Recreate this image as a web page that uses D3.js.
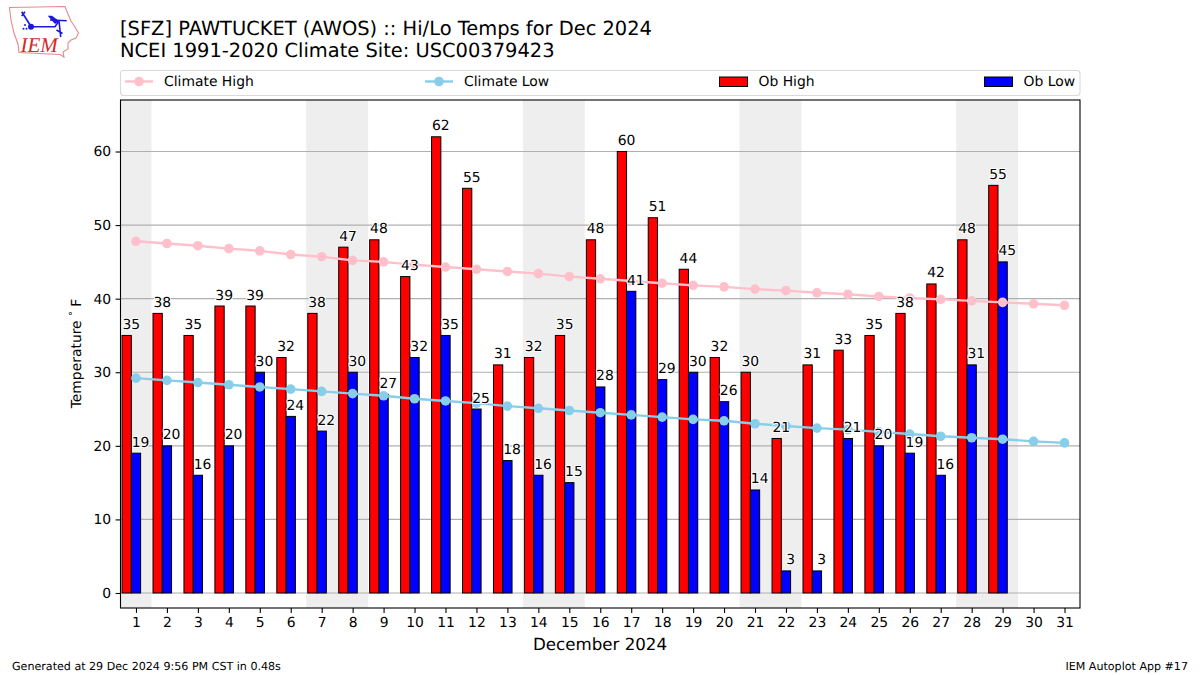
<!DOCTYPE html>
<html>
<head>
<meta charset="utf-8">
<script src="https://d3js.org/d3.v7.min.js"></script>
<style>
  html, body { margin: 0; padding: 0; background: #fff; }
  svg { display: block; text-rendering: geometricPrecision; }
  text { font-family: "DejaVu Sans", sans-serif; fill: #000; }
</style>
</head>
<body>
<svg id="chart" width="1200" height="675"></svg>
<script>
// values
var days = [1,2,3,4,5,6,7,8,9,10,11,12,13,14,15,16,17,18,19,20,21,22,23,24,25,26,27,28,29,30,31];
var obHigh = [35,38,35,39,39,32,38,47,48,43,62,55,31,32,35,48,60,51,44,32,30,21,31,33,35,38,42,48,55.4];
var obLow = [19,20,16,20,30,24,22,30,27,32,35,25,18,16,15,28,41,29,30,26,14,3,3,21,20,19,16,31,45];
var climateHigh = [47.8,47.5,47.2,46.8,46.5,46.0,45.7,45.2,45.0,44.6,44.3,44.0,43.7,43.4,43.0,42.7,42.4,42.1,41.8,41.6,41.3,41.1,40.8,40.6,40.3,40.1,39.9,39.7,39.5,39.3,39.1];
var climateLow = [29.2,28.9,28.6,28.3,28.0,27.7,27.4,27.1,26.8,26.4,26.1,25.8,25.4,25.1,24.8,24.5,24.2,23.9,23.6,23.4,23.0,22.7,22.4,22.2,21.9,21.6,21.3,21.1,20.9,20.6,20.4];
var weekends = [[0.5,1.5],[6.5,8.5],[13.5,15.5],[20.5,22.5],[27.5,29.5]];
var yTicks = [0,10,20,30,40,50,60];

var margin = {top: 100, right: 120, bottom: 67, left: 120.5},
    width = 1200 - margin.left - margin.right,
    height = 675 - margin.top - margin.bottom;

var svg = d3.select("#chart");
var g = svg.append("g")
    .attr("transform", "translate(" + margin.left + "," + margin.top + ")");

var x = d3.scaleLinear().domain([0.5, 31.5]).range([0, width]);
var y = d3.scaleLinear().domain([-2.04, 67]).range([height, 0]);

// weekend shading
g.selectAll("rect.weekend")
    .data(weekends)
    .enter()
    .append("rect")
    .attr("x", function (d) { return x(d[0]); })
    .attr("width", function (d) { return x(d[1]) - x(d[0]); })
    .attr("y", 0)
    .attr("height", height)
    .attr("fill", "#eeeeee");

// horizontal grid
g.selectAll("line.grid")
    .data(yTicks)
    .enter()
    .append("line")
    .attr("x1", 0)
    .attr("x2", width)
    .attr("y1", function (d) { return y(d); })
    .attr("y2", function (d) { return y(d); })
    .attr("stroke", "#b0b0b0")
    .attr("stroke-width", 1.1);

// bars
function drawBars(values, offset, color) {
    g.append("g").selectAll("rect")
        .data(values)
        .enter()
        .append("rect")
        .attr("x", function (d, i) { return x(days[i] + offset); })
        .attr("width", x(0.8) - x(0.5))
        .attr("y", function (d) { return y(d); })
        .attr("height", function (d) { return y(0) - y(d); })
        .attr("fill", color)
        .attr("stroke", "#000")
        .attr("stroke-width", 1);
}
drawBars(obHigh, -0.45, "#ff0000");
drawBars(obLow, -0.15, "#0000ff");

// climate lines
function drawClimate(values, color) {
    var line = d3.line()
        .x(function (d, i) { return x(days[i]); })
        .y(function (d) { return y(d); });
    g.append("path")
        .attr("d", line(values))
        .attr("fill", "none")
        .attr("stroke", color)
        .attr("stroke-width", 2.4);
    g.append("g").selectAll("circle")
        .data(values)
        .enter()
        .append("circle")
        .attr("cx", function (d, i) { return x(days[i]); })
        .attr("cy", function (d) { return y(d); })
        .attr("r", 4.8)
        .attr("fill", color);
}
drawClimate(climateHigh, "#ffc0cb");
drawClimate(climateLow, "#87ceeb");

// bar labels with a thin white halo
function drawLabels(values, offset) {
    g.append("g").selectAll("text")
        .data(values)
        .enter()
        .append("text")
        .attr("x", function (d, i) { return x(days[i] + offset); })
        .attr("y", function (d) { return y(d) - 6.5; })
        .attr("text-anchor", "middle")
        .attr("font-size", "13.9px")
        .attr("stroke", "#fff")
        .attr("stroke-width", 2)
        .attr("paint-order", "stroke")
        .text(function (d) { return d3.format(".0f")(d); });
}
drawLabels(obHigh, -0.15);
drawLabels(obLow, 0.15);

// axes
var xAxis = g.append("g")
    .attr("transform", "translate(0," + height + ")")
    .call(d3.axisBottom(x).tickValues(days).tickFormat(d3.format("d")).tickSize(4.9).tickPadding(4.5));
var yAxis = g.append("g")
    .call(d3.axisLeft(y).tickValues(yTicks).tickSize(4.9).tickPadding(4.5));
[xAxis, yAxis].forEach(function (a) {
    a.select(".domain").remove();
    a.selectAll("text").attr("font-size", "13.9px").attr("font-family", "DejaVu Sans").attr("fill", "#000");
    a.selectAll("line").attr("stroke", "#000").attr("stroke-width", 1.1);
});

// frame
g.append("rect")
    .attr("width", width)
    .attr("height", height)
    .attr("fill", "none")
    .attr("stroke", "#000")
    .attr("stroke-width", 1.1);

// titles
svg.append("text").attr("x", 120).attr("y", 35).attr("font-size", "19.44px")
    .text("[SFZ] PAWTUCKET (AWOS) :: Hi/Lo Temps for Dec 2024");
svg.append("text").attr("x", 120).attr("y", 57).attr("font-size", "19.44px")
    .text("NCEI 1991-2020 Climate Site: USC00379423");

// axis titles
svg.append("text").attr("x", 600).attr("y", 649.5).attr("text-anchor", "middle").attr("font-size", "16.67px")
    .text("December 2024");
var yTitle = svg.append("text")
    .attr("transform", "translate(80.5,353.5) rotate(-90)")
    .attr("text-anchor", "middle")
    .attr("font-size", "13.9px");
yTitle.append("tspan").text("Temperature ");
yTitle.append("tspan").attr("dy", -5).attr("font-size", "9.7px").text("\u00b0");
yTitle.append("tspan").attr("dy", 5).text(" F");

// legend
var legend = svg.append("g");
legend.append("rect")
    .attr("x", 120.5).attr("y", 70.5).attr("width", 959.5).attr("height", 25).attr("rx", 3)
    .attr("fill", "#fff").attr("stroke", "#d9d9d9").attr("stroke-width", 1.1);

function legendLine(x0, color, label) {
    legend.append("line").attr("x1", x0).attr("x2", x0 + 28).attr("y1", 81.5).attr("y2", 81.5)
        .attr("stroke", color).attr("stroke-width", 2.4);
    legend.append("circle").attr("cx", x0 + 14).attr("cy", 81.5).attr("r", 4.8).attr("fill", color);
    legend.append("text").attr("x", x0 + 39).attr("y", 86).attr("font-size", "13.9px").text(label);
}
function legendBar(x0, color, label) {
    legend.append("rect").attr("x", x0).attr("y", 77).attr("width", 28).attr("height", 9.5)
        .attr("fill", color).attr("stroke", "#000").attr("stroke-width", 1);
    legend.append("text").attr("x", x0 + 39).attr("y", 86).attr("font-size", "13.9px").text(label);
}
legendLine(125, "#ffc0cb", "Climate High");
legendLine(425, "#87ceeb", "Climate Low");
legendBar(719.5, "#ff0000", "Ob High");
legendBar(984.5, "#0000ff", "Ob Low");

// footer
svg.append("text").attr("x", 12).attr("y", 670).attr("font-size", "11.1px").attr("fill", "#000")
    .text("Generated at 29 Dec 2024 9:56 PM CST in 0.48s");
svg.append("text").attr("x", 1188).attr("y", 670).attr("text-anchor", "end").attr("font-size", "11.1px")
    .text("IEM Autoplot App #17");

// IEM logo
var logo = svg.append("g");
logo.append("path")
    .attr("d", "M9.5,7.5 L65,6.5 L68,14 L71,21 L75,27 L78.5,33 L76,38 L71,40 L68,43 L68,49 L63,52 L64,57 L60,54.5 L19,52.5 L18,44 L14,33 L11,20 Z")
    .attr("fill", "none").attr("stroke", "#e58a8a").attr("stroke-width", 1.1);
logo.append("text").attr("x", 20.5).attr("y", 52)
    .attr("font-size", "21px")
    .style("font-family", "Liberation Serif").style("font-style", "italic").style("fill", "#d42a2a").text("IEM");
logo.append("path")
    .attr("d", "M31,26.7 L55,26.7 L59,21 M21.7,11.7 L30.7,26 M21.7,16 L25,11.7 M50,20 L66.7,20.7 M59,20.7 L60.7,37 M56.5,30 L62.5,33.5")
    .attr("fill", "none").attr("stroke", "#1a1ad6").attr("stroke-width", 1.6);
logo.append("path")
    .attr("d", "M47.7,15.7 L52,15.7 L59,21 L55,24 Z")
    .attr("fill", "#1a1ad6");
logo.append("circle").attr("cx", 31).attr("cy", 26.7).attr("r", 3).attr("fill", "#1a1ad6");
logo.append("circle").attr("cx", 25).attr("cy", 25).attr("r", 1).attr("fill", "#1a1ad6");
logo.append("circle").attr("cx", 23.5).attr("cy", 28.7).attr("r", 1).attr("fill", "#1a1ad6");
logo.append("circle").attr("cx", 26.5).attr("cy", 28.7).attr("r", 1).attr("fill", "#1a1ad6");
</script>
</body>
</html>
